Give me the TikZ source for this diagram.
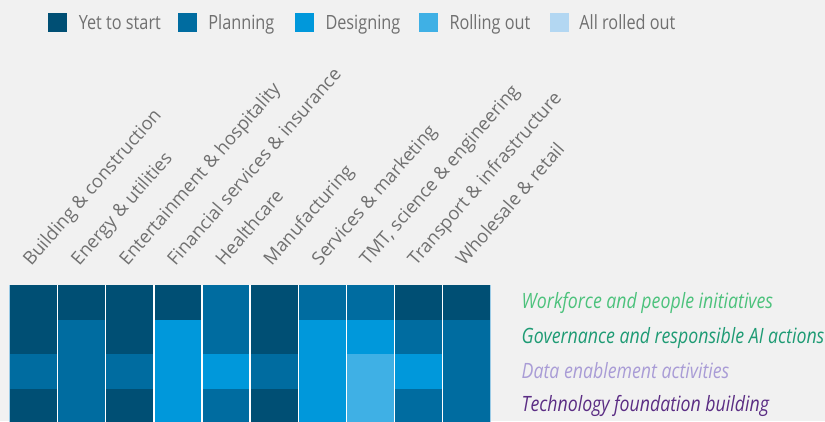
\documentclass[tikz,border=0pt]{standalone}
\usepackage{fontspec}
\setmainfont{Open Sans}
\newfontfamily\bcgfont[FakeStretch=0.83]{Open Sans}
\newfontfamily\bcgitfont[FakeStretch=0.84]{Open Sans}
\usetikzlibrary{positioning, calc}

\definecolor{bgray}{HTML}{F1F1F1}
\definecolor{yet}{HTML}{004F74}
\definecolor{plan}{HTML}{006CA0}
\definecolor{design}{HTML}{0098DB}
\definecolor{rolling}{HTML}{3FB0E5}
\definecolor{rolled}{HTML}{B3D7F2}
\definecolor{txtgray}{HTML}{707070}
\definecolor{workforce}{HTML}{4CC27C}
\definecolor{governance}{HTML}{1E9B74}
\definecolor{dataen}{HTML}{A99CD6}
\definecolor{techfound}{HTML}{5B2D84}
\definecolor{edgeblue}{HTML}{9CCBE6}

\begin{document}
\begin{tikzpicture}[x=1pt, y=-1pt,
    legbox/.style={minimum size=19pt, inner sep=0pt},
    legtxt/.style={anchor=base west, inner sep=0pt, text=txtgray, font=\bcgfont\fontsize{19.6}{22}\selectfont},
    sector/.style={anchor=base west, inner sep=0pt, rotate=49, text=txtgray, font=\fontsize{18.3}{22}\selectfont},
    action/.style={anchor=base west, inner sep=0pt, font=\bcgitfont\itshape\fontsize{21.1}{24}\selectfont}]

        \fill[bgray] (0,0) rectangle (825,421);
        \useasboundingbox (0,0) rectangle (825,421);
        \clip (0,0) rectangle (825,421);

        % Legend
        \node[legbox, fill=yet] (yetbox) at (57.9,22.8) {};
        \node[legtxt] (yettxt) at ([xshift=11pt, yshift=-7pt]yetbox.east) {Yet to start};
        \node[legbox, fill=plan] (planbox) at (187.5,22.8) {};
        \node[legtxt] (plantxt) at ([xshift=11pt, yshift=-7pt]planbox.east) {Planning};
        \node[legbox, fill=design] (designbox) at (304.6,22.8) {};
        \node[legtxt] (designtxt) at ([xshift=11pt, yshift=-7pt]designbox.east) {Designing};
        \node[legbox, fill=rolling] (rollbox) at (428.6,22.8) {};
        \node[legtxt] (rolltxt) at ([xshift=11pt, yshift=-7pt]rollbox.east) {Rolling out};
        \node[legbox, fill=rolled] (donebox) at (559.5,22.8) {};
        \node[legtxt] (donetxt) at ([xshift=10pt, yshift=-7pt]donebox.east) {All rolled out};

    \begin{scope}[shift={(9.5,285)}, x=48.12pt, y=-34.7pt]
        % one column per sector, rows top to bottom
        \fill[yet] (0,0) rectangle (1,2); \fill[plan] (0,2) rectangle (1,3); \fill[yet] (0,3) rectangle (1,4.2);
        \fill[yet] (1,0) rectangle (2,1); \fill[plan] (1,1) rectangle (2,4.2);
        \fill[yet] (2,0) rectangle (3,2); \fill[plan] (2,2) rectangle (3,3); \fill[yet] (2,3) rectangle (3,4.2);
        \fill[yet] (3,0) rectangle (4,1); \fill[design] (3,1) rectangle (4,4.2);
        \fill[plan] (4,0) rectangle (5,2); \fill[design] (4,2) rectangle (5,3); \fill[plan] (4,3) rectangle (5,4.2);
        \fill[yet] (5,0) rectangle (6,2); \fill[plan] (5,2) rectangle (6,3); \fill[yet] (5,3) rectangle (6,4.2);
        \fill[plan] (6,0) rectangle (7,1); \fill[design] (6,1) rectangle (7,4.2);
        \fill[plan] (7,0) rectangle (8,1); \fill[design] (7,1) rectangle (8,2); \fill[rolling] (7,2) rectangle (8,4.2);
        \fill[yet] (8,0) rectangle (9,1); \fill[plan] (8,1) rectangle (9,2); \fill[design] (8,2) rectangle (9,3); \fill[plan] (8,3) rectangle (9,4.2);
        \fill[yet] (9,0) rectangle (10,1); \fill[plan] (9,1) rectangle (10,4.2);

        \draw[white, line width=1.3pt] (1,0) -- (1,4.2) (2,0) -- (2,4.2) (3,0) -- (3,4.2) (4,0) -- (4,4.2) (5,0) -- (5,4.2)
            (6,0) -- (6,4.2) (7,0) -- (7,4.2) (8,0) -- (8,4.2) (9,0) -- (9,4.2);
        \draw[edgeblue, line width=0.7pt] (0,0) -- (0,4.2) (10,0) -- (10,4.2);

        % Sector labels
        \node[sector] (build) at (0.45,-0.53) {Building \& construction};
        \node[sector] (energy) at (1.45,-0.53) {Energy \& utilities};
        \node[sector] (enter) at (2.45,-0.53) {Entertainment \& hospitality};
        \node[sector] (finance) at (3.45,-0.53) {Financial services \& insurance};
        \node[sector] (health) at (4.45,-0.53) {Healthcare};
        \node[sector] (manuf) at (5.45,-0.53) {Manufacturing};
        \node[sector] (services) at (6.45,-0.53) {Services \& marketing};
        \node[sector] (tmt) at (7.45,-0.53) {TMT, science \& engineering};
        \node[sector] (transport) at (8.45,-0.53) {Transport \& infrastructure};
        \node[sector] (wholesale) at (9.45,-0.53) {Wholesale \& retail};

        % Row labels
        \node[action, text=workforce] (people) at ([yshift=-6pt]10.64,0.5) {Workforce and people initiatives};
        \node[action, text=governance] (govern) at ([yshift=-6.3pt]10.64,1.5) {Governance and responsible AI actions};
        \node[action, text=dataen] (dataact) at ([yshift=-6.5pt]10.64,2.5) {Data enablement activities};
        \node[action, text=techfound] (techbuild) at ([yshift=-5.3pt]10.64,3.5) {Technology foundation building};
    \end{scope}

    \end{tikzpicture}
\end{document}
